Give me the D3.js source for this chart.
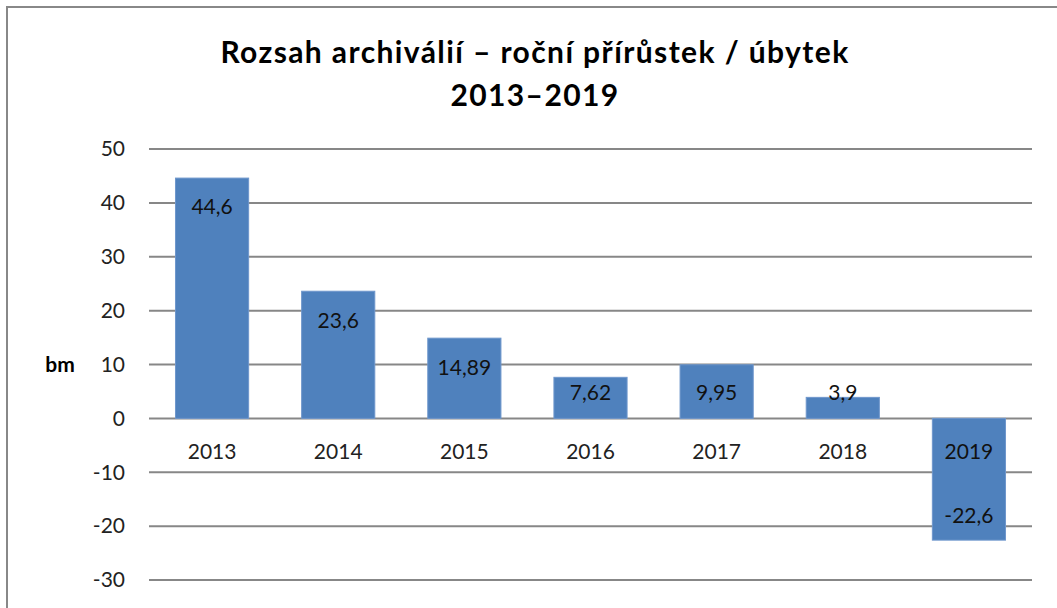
<!DOCTYPE html>
<html>
<head>
<meta charset="utf-8">
<script src="https://cdn.jsdelivr.net/npm/d3@7"></script>
<style>
  html, body { margin: 0; padding: 0; background: #fff; }
  svg { display: block; font-family: Lato, "Open Sans", sans-serif; }
</style>
</head>
<body>
<svg id="chart" width="1057" height="608"></svg>
<script>
// data
const years  = ["2013", "2014", "2015", "2016", "2017", "2018", "2019"];
const values = [44.6, 23.6, 14.89, 7.62, 9.95, 3.9, -22.6];
const yTicks = [50, 40, 30, 20, 10, 0, -10, -20, -30];
const titleLines = ["Rozsah archiválií – roční přírůstek / úbytek", "2013–2019"];

const W = 1057, H = 608;
const BAR_COLOR  = "#4f81bd";
const GRID_COLOR = "#878787";
const FS = 21;   // tick / label font size

const svg = d3.select("#chart");

// chart frame (image is cropped on right/bottom)
svg.append("rect")
  .attr("x", 7).attr("y", 7)
  .attr("width", W + 20).attr("height", H + 20)
  .attr("fill", "#fff")
  .attr("stroke", "#888").attr("stroke-width", 2);

// title
svg.append("text")
  .attr("text-anchor", "middle")
  .attr("font-size", 30).attr("font-weight", "bold").attr("fill", "#000")
  .style("letter-spacing", "1.4px")
  .selectAll("tspan").data(titleLines).join("tspan")
  .attr("x", 535).attr("y", (d, i) => 63 + i * 43)
  .text(d => d);

// scales
const x = d3.scaleBand().domain(years).range([149, 1032])
  .paddingInner(0.42).paddingOuter(0.21);
const y = d3.scaleLinear().domain([-30, 50]).range([580, 149]);

// gridlines
svg.append("g").selectAll("line").data(yTicks).join("line")
  .attr("x1", 149).attr("x2", 1032)
  .attr("y1", d => y(d)).attr("y2", d => y(d))
  .attr("stroke", GRID_COLOR).attr("stroke-width", 2);

// y tick labels
svg.append("g").selectAll("text").data(yTicks).join("text")
  .attr("x", 125).attr("y", d => y(d))
  .attr("dy", "0.35em")
  .attr("text-anchor", "end")
  .attr("font-size", FS).attr("fill", "#222")
  .text(d => d);

// axis title
svg.append("text")
  .attr("x", 60).attr("y", y(10)).attr("dy", "0.35em")
  .attr("text-anchor", "middle")
  .attr("font-size", FS).attr("font-weight", "bold").attr("fill", "#000")
  .text("bm");

const data = years.map((yr, i) => ({ yr, v: values[i] }));

// category labels (below zero line)
svg.append("g").selectAll("text").data(data).join("text")
  .attr("x", d => x(d.yr) + x.bandwidth() / 2)
  .attr("y", y(0) + 33).attr("dy", "0.35em")
  .attr("text-anchor", "middle")
  .attr("font-size", FS).attr("fill", "#222")
  .text(d => d.yr);

// bars
svg.append("g").selectAll("rect").data(data).join("rect")
  .attr("x", d => x(d.yr))
  .attr("width", x.bandwidth())
  .attr("y", d => y(Math.max(0, d.v)))
  .attr("height", d => Math.abs(y(d.v) - y(0)))
  .attr("fill", BAR_COLOR)
  .attr("stroke", "#6f97cc").attr("stroke-width", 1);

// 2019 category label is drawn over its bar
svg.append("text")
  .attr("x", x("2019") + x.bandwidth() / 2)
  .attr("y", y(0) + 33).attr("dy", "0.35em")
  .attr("text-anchor", "middle")
  .attr("font-size", FS).attr("fill", "#111")
  .text("2019");

// value labels at inside end; short bars push the label up (Excel-like)
const labelY = d => d.v >= 0
  ? Math.min(y(d.v) + 29, y(0) - 26)
  : y(d.v) - 24;

svg.append("g").selectAll("text").data(data).join("text")
  .attr("x", d => x(d.yr) + x.bandwidth() / 2)
  .attr("y", labelY)
  .attr("dy", "0.35em")
  .attr("text-anchor", "middle")
  .attr("font-size", FS).attr("fill", "#111")
  .text(d => String(d.v).replace(".", ","));
</script>
</body>
</html>
